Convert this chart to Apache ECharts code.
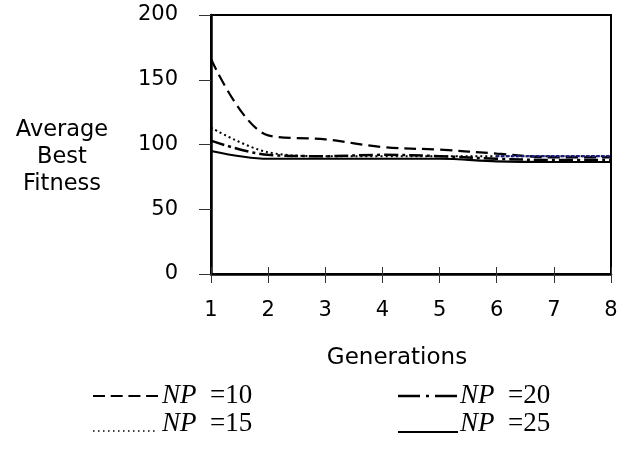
<!DOCTYPE html>
<html>
<head>
<meta charset="utf-8">
<script src="https://cdn.jsdelivr.net/npm/echarts@6/dist/echarts.min.js"></script>
<style>
html,body{margin:0;padding:0;background:#fff;}
#chart{width:631px;height:472px;}
</style>
</head>
<body>
<div id="chart"></div>
<script>
const generations = [1, 2, 3, 4, 5, 6, 7, 8];
const np10 = [166, 107, 104, 98, 96, 93, 90, 90];
const np15 = [113, 94, 91, 91, 91, 91, 91, 91];
const np20 = [103, 92, 91, 92, 91, 89, 88, 88];
const np25 = [95, 89, 89, 89, 89, 87, 86.5, 86.5];
const yTicks = [0, 50, 100, 150, 200];
const legendLabels = ['10', '15', '20', '25'];
const blueFromGeneration = 6;

const axisFont = 'DejaVu Sans';
const pairs = arr => generations.map((g, i) => [g, arr[i]]);

const chart = echarts.init(document.getElementById('chart'), null, {renderer: 'canvas'});

function mkSeries(name, data, lineType, width, color) {
  return {
    name: name, type: 'line', data: data, smooth: 0.35,
    showSymbol: false, symbol: 'none', xAxisIndex: 0, yAxisIndex: 0,
    lineStyle: {color: color || '#000', width: width, type: lineType},
    animation: false
  };
}

const legendText = (x, y, label) => ({
  type: 'text', x: x, y: y,
  style: {text: '{i|NP}  =' + label, font: '27px "Liberation Serif"', fill: '#000', verticalAlign: 'middle',
    rich: {i: {fontStyle: 'italic', fontFamily: 'Liberation Serif', fontSize: 27}}}
});

const option = {
  animation: false,
  backgroundColor: '#fff',
  grid: {left: 211, right: 20, top: 15, bottom: 198, show: true, borderColor: '#000', borderWidth: 2, backgroundColor: 'transparent'},
  xAxis: [{
    type: 'value', min: 1, max: 8, interval: 1,
    axisLine: {show: true, lineStyle: {color: '#000', width: 2.5}},
    axisTick: {show: true, length: 9, lineStyle: {color: '#333', width: 1}},
    axisLabel: {margin: 26, fontSize: 21, fontFamily: axisFont, color: '#000'},
    splitLine: {show: false}
  }, {
    type: 'value', min: 1, max: 8, interval: 1, position: 'bottom',
    axisLine: {show: false},
    axisTick: {show: true, inside: true, length: 7, lineStyle: {color: '#333', width: 1}},
    axisLabel: {show: false},
    splitLine: {show: false}
  }],
  yAxis: {
    type: 'value', min: yTicks[0], max: yTicks[yTicks.length - 1], interval: 50,
    axisLine: {show: true, lineStyle: {color: '#000', width: 2.5}},
    axisTick: {show: true, length: 12, lineStyle: {color: '#333', width: 1}},
    axisLabel: {margin: 33, fontSize: 21, fontFamily: axisFont, color: '#000'},
    splitLine: {show: false}
  },
  series: [
    mkSeries('NP =10', pairs(np10), [12, 6], 2.2),
    mkSeries('NP =15', pairs(np15), [2, 3], 2),
    mkSeries('NP =20', pairs(np20), [14, 4, 3, 4], 2.5),
    mkSeries('NP =25', pairs(np25), 'solid', 2.2),
    mkSeries('NP =15 tail', pairs(np15).filter(p => p[0] >= blueFromGeneration), [3, 2], 2.2, '#1c1c8e')
  ],
  graphic: [
    {type: 'text', x: 62, y: 157.5, style: {text: 'Average\nBest\nFitness', font: '22.5px "DejaVu Sans"', fill: '#000', align: 'center', verticalAlign: 'middle', lineHeight: 27}},
    {type: 'text', x: 397, y: 358, style: {text: 'Generations', font: '23px "DejaVu Sans"', fill: '#000', align: 'center', verticalAlign: 'middle'}},
    {type: 'line', shape: {x1: 93, y1: 396, x2: 158, y2: 396}, style: {stroke: '#000', lineWidth: 2, lineDash: [12, 5.7]}},
    legendText(162, 396, legendLabels[0]),
    {type: 'line', shape: {x1: 93, y1: 431, x2: 155, y2: 431}, style: {stroke: '#000', lineWidth: 1.5, lineDash: [1.5, 3.5]}},
    legendText(162, 424, legendLabels[1]),
    {type: 'line', shape: {x1: 398, y1: 396, x2: 458, y2: 396}, style: {stroke: '#000', lineWidth: 2.5, lineDash: [22, 6, 3, 6]}},
    legendText(460, 396, legendLabels[2]),
    {type: 'line', shape: {x1: 398, y1: 432, x2: 458, y2: 432}, style: {stroke: '#000', lineWidth: 2}},
    legendText(460, 424, legendLabels[3])
  ]
};
chart.setOption(option);
</script>
</body>
</html>
